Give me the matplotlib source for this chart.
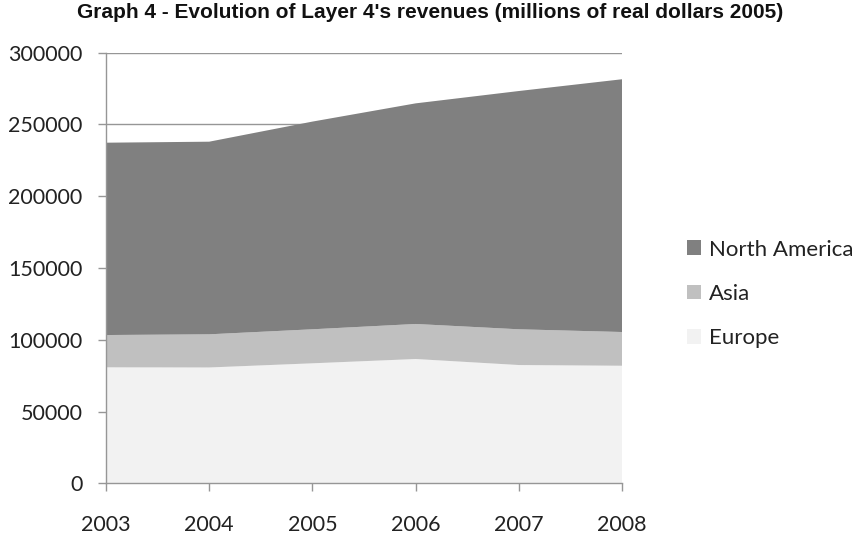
import matplotlib
matplotlib.use("Agg")
import matplotlib.pyplot as plt
from matplotlib.patches import Patch

years = [2003, 2004, 2005, 2006, 2007, 2008]
europe = [80800, 80700, 83600, 86600, 82400, 81900]
asia = [22500, 23100, 23700, 24400, 24900, 23500]
north_america = [134000, 134200, 144700, 153700, 166000, 176100]
y_ticks = [0, 50000, 100000, 150000, 200000, 250000, 300000]

series_names = ["Europe", "Asia", "North America"]
colors = ["#f2f2f2", "#c0c0c0", "#808080"]
grid_color = "#969696"
text_color = "#222222"

fig = plt.figure(figsize=(8.6, 5.38), dpi=100)
ax = fig.add_axes([106 / 860, 1 - 483.3 / 538, 516 / 860, 430.6 / 538])

ax.stackplot(years, europe, asia, north_america, colors=colors, linewidth=0, zorder=2)

ax.set_xlim(years[0], years[-1])
ax.set_ylim(0, 300000)
ax.set_yticks(y_ticks)
ax.set_yticklabels([str(v) for v in y_ticks])
ax.set_xticks(years)
ax.set_xticklabels([str(y) for y in years])

ax.yaxis.grid(True, color=grid_color, linewidth=1.0, zorder=0)
ax.set_axisbelow(True)
for side in ("top", "right"):
    ax.spines[side].set_visible(False)
for side in ("left", "bottom"):
    ax.spines[side].set_color(grid_color)
    ax.spines[side].set_linewidth(1.0)
    ax.spines[side].set_zorder(3)

ax.tick_params(axis="y", direction="out", length=6, width=1, color=grid_color,
               pad=11, labelsize=15.5, labelcolor=text_color)
ax.tick_params(axis="x", direction="out", length=6, width=1, color=grid_color,
               pad=17, labelsize=15.5, labelcolor=text_color)
for lab in ax.get_xticklabels() + ax.get_yticklabels():
    lab.set_family("Lato")

fig.text(0.5, 1 - 13 / 538, "Graph 4 - Evolution of Layer 4's revenues (millions of real dollars 2005)",
         ha="center", va="center", fontsize=15, fontweight="bold",
         family="Liberation Sans", color="#111111")

handles = [Patch(facecolor=c, edgecolor="none") for c in colors[::-1]]
labels = series_names[::-1]
leg = fig.legend(handles, labels, loc="center left", bbox_to_anchor=(667 / 860, 1 - 294 / 538),
                 frameon=False, handlelength=0.63, handleheight=0.63, handletextpad=0.36,
                 labelspacing=1.1, prop={"family": "Lato", "size": 16})
for t in leg.get_texts():
    t.set_color(text_color)

fig.savefig("out.png", dpi=100)
